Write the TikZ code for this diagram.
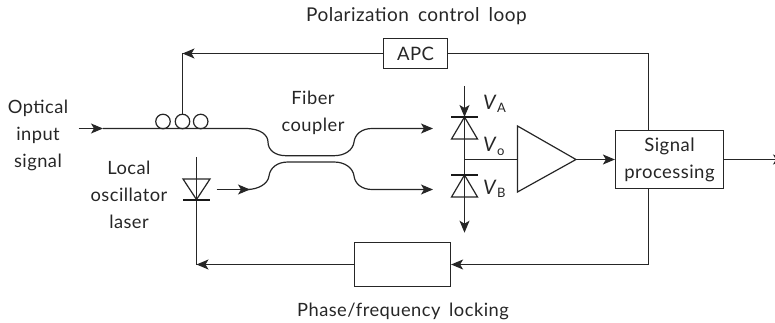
\documentclass[tikz,border=0pt]{standalone}
\usepackage{fontspec}
\setmainfont[LetterSpace=2.5,WordSpace=1.7]{Lato}
\usetikzlibrary{arrows.meta}

\tikzset{
  wire/.style={line width=1.2pt,draw=black!85},
  feed/.style={wire,-{Stealth[length=12pt,width=10pt,inset=3pt]}},
  blockbox/.style={draw=black!85,line width=1.2pt,fill=white,align=center,inner sep=0pt,
    font=\fontsize{18.5}{27}\selectfont,text=black!85},
  lbl/.style={font=\fontsize{18.3}{27}\selectfont,align=center,text=black!85,inner sep=0pt},
  volt/.style={font=\fontsize{20}{22}\selectfont,text=black!85,inner sep=0pt,anchor=base west}
}
\newcommand{\vsub}[1]{\textit{V}\raisebox{-3pt}{\fontsize{13}{13}\selectfont #1}}

\begin{document}
\begin{tikzpicture}[x=1pt,y=-1pt,line join=miter]
  \useasboundingbox (0,0) rectangle (775,323);

  % ---- reference values ----
  \def\inY{128.5}      % input fibre and upper coupler arm
  \def\loY{189.5}      % lower coupler arm
  \def\diodeX{464.5}   % balanced photodiodes
  \def\laserX{196.5}   % local oscillator
  \def\midY{159.5}     % amplifier axis
  \def\topY{53.5}      % polarization loop
  \def\botY{264.5}     % locking loop
  \def\tapX{648.5}     % where the two loops leave the processor

  % ---- blocks ----
  \node[blockbox,minimum width=64pt,minimum height=30pt] (apc) at (415.5,\topY) {APC};
  \node[blockbox,minimum width=96pt,minimum height=44pt] (lock) at (402.5,\botY) {};
  \node[blockbox,minimum width=108pt,minimum height=58pt] (proc) at (669.5,\midY) {Signal\\processing};

  % ---- amplifier ----
  \coordinate (ampT) at (517.5,126);
  \coordinate (ampB) at (517.5,192);
  \coordinate (ampO) at (576,\midY);
  \coordinate (ampI) at (517.5,\midY);
  \draw[wire] (ampT) -- (ampO) -- (ampB) -- cycle;

  % ---- input fibre and coupler ----
  \coordinate (inS) at (78.7,\inY);
  \coordinate (inA) at (103,\inY);
  \coordinate (loS) at (216.7,\loY);
  \coordinate (loA) at (250,\loY);
  \coordinate (upA) at (433,\inY);
  \coordinate (dnA) at (433,\loY);
  \draw[feed] (inS) -- (inA);
  \draw[feed] (inA) -- (245,\inY)
    .. controls (262,\inY) and (268,136) .. (268,142)
    .. controls (268,150) and (275,155.7) .. (286,155.7)
    -- (334,155.7)
    .. controls (345,155.7) and (353,150) .. (354,142)
    .. controls (355,134) and (362,\inY) .. (372,\inY)
    -- (upA);
  \draw[feed] (loS) -- (loA);
  \draw[feed] (loA) -- (247,\loY)
    .. controls (258,\loY) and (268,184) .. (269,176)
    .. controls (270,168) and (277,162) .. (288,162)
    -- (334,162)
    .. controls (345,162) and (353,168) .. (354,176)
    .. controls (355,184) and (362,\loY) .. (372,\loY)
    -- (dnA);

  % ---- polarization controller ----
  \foreach \cx/\cname in {163/pcA,182.5/pcB,200.7/pcC}
    \node[circle,draw=black!85,line width=1.2pt,minimum size=14.5pt,inner sep=0pt] (\cname) at (\cx,121.5) {};

  % ---- laser diode ----
  \coordinate (lasT) at (\laserX,157);
  \coordinate (lasC) at (\laserX,199.5);
  \coordinate (lasL) at (\laserX,\botY);
  \draw[wire] (lasT) -- (lasL);
  \draw[wire] (183,179) -- (210,179) -- (lasC) -- cycle;
  \draw[line width=2.4pt,draw=black!90] (183,200) -- (210,200);

  % ---- photodiodes ----
  \coordinate (vaS) at (\diodeX,86);
  \coordinate (vaE) at (\diodeX,117);
  \coordinate (vbE) at (\diodeX,232.7);
  \coordinate (vmid) at (\diodeX,\midY);
  \draw[feed] (vaS) -- (vaE);
  \draw[wire] (vaE) -- (\diodeX,175);
  \draw[feed] (\diodeX,175) -- (vbE);
  \draw[wire] (vaE) -- (477.5,139) -- (451.5,139) -- cycle;
  \draw[wire] (\diodeX,175) -- (477.5,197) -- (451.5,197) -- cycle;
  \draw[line width=2.4pt,draw=black!90] (451,117) -- (478,117);
  \draw[line width=2.4pt,draw=black!90] (451,175) -- (478,175);

  % ---- connections ----
  \draw[wire] (vmid) -- (ampI);
  \draw[feed] (ampO) -- (proc.west);
  \draw[feed] (proc.east) -- (785,\midY);
  \draw[wire] (proc.north -| \tapX,0) -- (\tapX,\topY) -- (apc.east);
  \draw[feed] (apc.west) -- (182.5,\topY);
  \draw[wire] (182.5,\topY) -- (pcB.north);
  \draw[feed] (proc.south -| \tapX,0) -- (\tapX,\botY) -- (lock.east);
  \draw[feed] (lock.west) -- (lasL);

  % ---- labels ----
  \node[lbl,font=\fontsize{19}{27}\selectfont] (loopT) at (416.5,16) {Polarization control loop};
  \node[lbl] (loopB) at (403,311) {Phase/frequency locking};
  \node[lbl] (optin) at (38,135) {Optical\\input\\signal};
  \node[lbl] (local) at (129,195) {Local\\oscillator\\laser};
  \node[lbl] (coupl) at (313,113) {Fiber\\coupler};
  \node[volt] (va) at (483,110) {\vsub{A}};
  \node[volt] (vo) at (483,152) {\vsub{o}};
  \node[volt] (vb) at (483,194) {\vsub{B}};
\end{tikzpicture}
\end{document}
